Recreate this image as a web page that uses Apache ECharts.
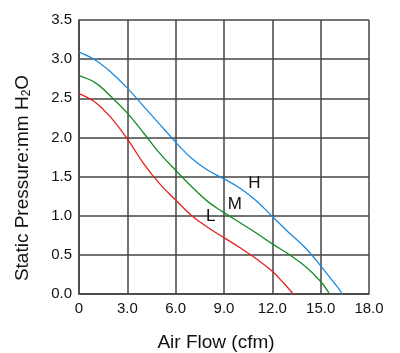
<!DOCTYPE html>
<html><head><meta charset="utf-8">
<script src="https://cdn.jsdelivr.net/npm/echarts@6/dist/echarts.min.js"></script>
<style>html,body{margin:0;padding:0;background:#fff}#c{width:400px;height:353px}</style>
</head><body><div id="c"></div>
<script>
const xTicks = [0, 3, 6, 9, 12, 15, 18];
const yTicks = [0, 0.5, 1, 1.5, 2, 2.5, 3, 3.5];
const hFlow = [0, 1, 2, 3, 4, 5, 6, 7, 8, 9, 10, 11, 12, 13, 14, 15, 16, 16.35];
const hPres = [3.09, 2.99, 2.83, 2.63, 2.40, 2.17, 1.94, 1.73, 1.58, 1.47, 1.35, 1.19, 0.99, 0.79, 0.60, 0.36, 0.10, 0];
const mFlow = [0, 1, 2, 3, 4, 5, 6, 7, 8, 9, 10, 11, 12, 13, 14, 15, 15.55];
const mPres = [2.79, 2.70, 2.52, 2.31, 2.06, 1.80, 1.58, 1.37, 1.18, 1.04, 0.91, 0.78, 0.64, 0.51, 0.36, 0.16, 0];
const lFlow = [0, 1, 2, 3, 4, 5, 6, 7, 8, 9, 10, 11, 12, 12.7, 13.3];
const lPres = [2.56, 2.45, 2.25, 1.98, 1.67, 1.41, 1.20, 1.00, 0.85, 0.72, 0.59, 0.45, 0.29, 0.14, 0];
const curveNames = ['H', 'M', 'L'];
const labelFlow = [10.89, 9.68, 8.18];
const labelPres = [1.41, 1.15, 0.99];
const colors = ['#1a8ae0', '#148a25', '#e3201e'];

const pairs = (xs, ys) => xs.map((x, i) => [x, ys[i]]);
const font = 'Liberation Sans';
const series = [[hFlow, hPres], [mFlow, mPres], [lFlow, lPres]].map((d, i) => ({
  type: 'line', name: curveNames[i], data: pairs(d[0], d[1]), smooth: 0.4,
  showSymbol: false, lineStyle: { color: colors[i], width: 1.3 }, z: 5,
  markPoint: {
    symbol: 'circle', symbolSize: 0,
    data: [{ coord: [labelFlow[i], labelPres[i]], value: curveNames[i] }],
    label: { show: true, position: 'inside', formatter: curveNames[i], color: '#111', fontSize: 17, fontFamily: font }
  }
}));

const chart = echarts.init(document.getElementById('c'));
chart.setOption({
  animation: false,
  grid: { left: 79, right: 31, top: 20, bottom: 59, containLabel: false, outerBoundsMode: 'none' },
  xAxis: {
    type: 'value', min: 0, max: 18, interval: 3,
    name: 'Air Flow (cfm)', nameLocation: 'middle', nameGap: 39,
    nameTextStyle: { fontSize: 19, color: '#111', fontFamily: font, padding: [0, 16, 0, 0] },
    axisLine: { lineStyle: { color: '#444', width: 1.5 } },
    axisTick: { show: false },
    axisLabel: { fontSize: 15, color: '#111', fontFamily: font, margin: 7,
      formatter: v => v === 0 ? '0' : v.toFixed(1) },
    splitLine: { show: true, lineStyle: { color: '#444', width: 1.5 } }
  },
  yAxis: {
    type: 'value', min: 0, max: 3.5, interval: 0.5,
    name: 'Static Pressure:mm H{sub|2}O', nameLocation: 'middle', nameGap: 46,
    nameTextStyle: { fontSize: 19, color: '#111', fontFamily: font, padding: [0, 42, 0, 0],
      rich: { sub: { fontSize: 12, verticalAlign: 'bottom', padding: [9, 0, 0, 0], fontFamily: font, color: '#111' } } },
    axisLine: { show: true, lineStyle: { color: '#444', width: 1.5 } },
    axisTick: { show: false },
    axisLabel: { fontSize: 15, color: '#111', fontFamily: font, margin: 7,
      formatter: v => v.toFixed(1) },
    splitLine: { show: true, lineStyle: { color: '#444', width: 1.5 } }
  },
  series
});
</script></body></html>
